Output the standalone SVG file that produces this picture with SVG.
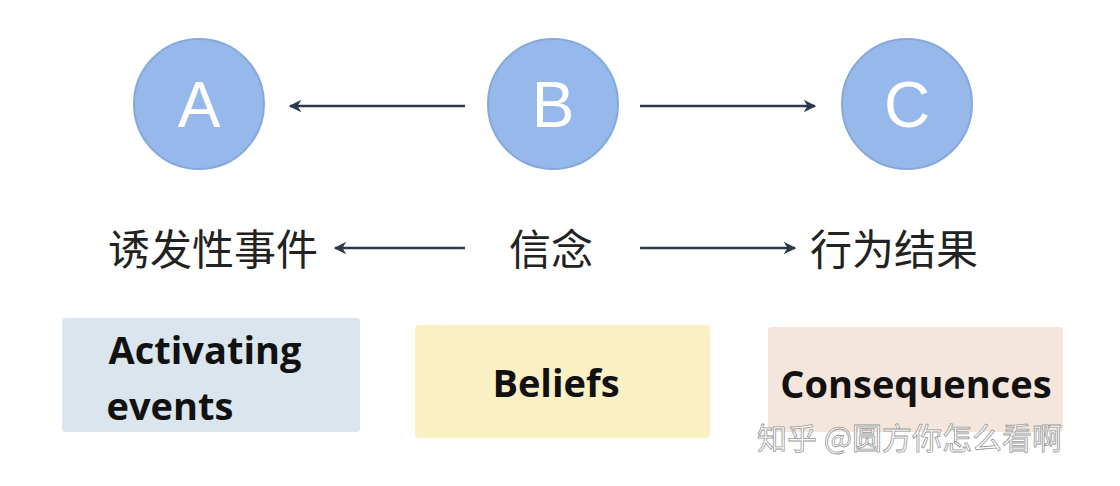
<svg xmlns="http://www.w3.org/2000/svg" width="1120" height="486" viewBox="0 0 1120 486">
<style>
.c{fill:#96b8ea;stroke:#86a8dc;stroke-width:2}
.l{font-family:"Liberation Sans",Arial,sans-serif;font-size:64px;fill:#fff;text-anchor:middle}
.zh{font-family:"Noto Sans CJK SC",sans-serif;font-size:42px;fill:#222;text-anchor:middle}
.en{font-family:"Open Sans","Liberation Sans",sans-serif;font-weight:bold;font-size:38px;fill:#111;text-anchor:middle}
.a{stroke:#2a3a4a;stroke-width:2.5;fill:none;marker-end:url(#m)}
</style>
<defs><marker id="m" viewBox="0 0 10 10" refX="9" refY="5" markerWidth="5" markerHeight="5" orient="auto"><path d="M0,0L10,5L0,10L3,5z" fill="#2a3a4a"/></marker></defs>
<rect width="1120" height="486" fill="#fff"/>
<g id="A"><circle class="c" cx="199" cy="104" r="65"/><text class="l" x="199" y="127">A</text></g>
<g id="B"><circle class="c" cx="553" cy="104" r="65"/><text class="l" x="553" y="127">B</text></g>
<g id="C"><circle class="c" cx="907" cy="104" r="65"/><text class="l" x="907" y="127">C</text></g>
<g id="zA"><text class="zh" x="213" y="265">诱发性事件</text></g>
<g id="zB"><text class="zh" x="551" y="265">信念</text></g>
<g id="zC"><text class="zh" x="894" y="265">行为结果</text></g>
<g id="eA"><rect x="62" y="318" width="298" height="114" rx="4" fill="#dbe5ed"/><text class="en" x="205" y="364">Activating</text><text class="en" x="170" y="420">events</text></g>
<g id="eB"><rect x="415" y="325" width="295" height="113" rx="4" fill="#fbf0c4"/><text class="en" x="556" y="397">Beliefs</text></g>
<g id="eC"><rect x="768" y="327" width="295" height="105" rx="4" fill="#f4e6da"/><text class="en" x="916" y="398">Consequences</text></g>
<g id="connectors">
<line class="a" x1="465" y1="106" x2="290" y2="106"/>
<line class="a" x1="640" y1="106" x2="815" y2="106"/>
<line class="a" x1="465" y1="248" x2="335" y2="248"/>
<line class="a" x1="640" y1="248" x2="795" y2="248"/>
</g>
<text x="757" y="449" font-family="Noto Sans CJK SC,sans-serif" font-size="30" fill="#fff" stroke="#999" stroke-width="0.8">知乎 @圆方你怎么看啊</text>
</svg>
